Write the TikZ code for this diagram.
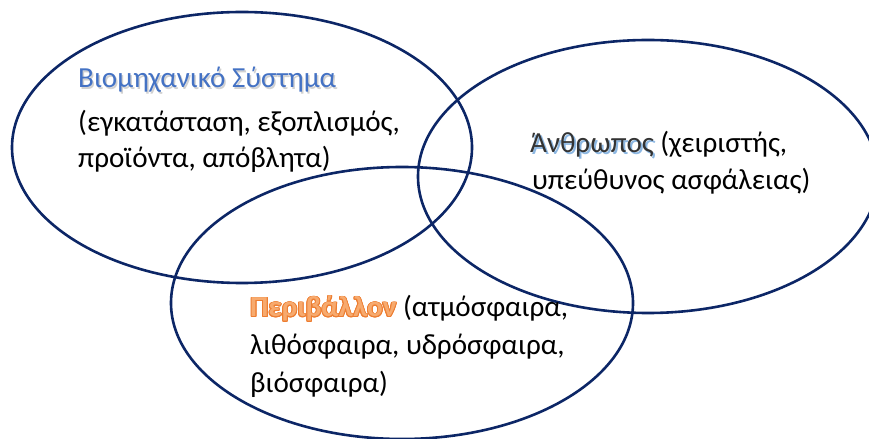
\documentclass[tikz,border=0pt]{standalone}
\usepackage{fontspec}
\setmainfont{Carlito}
\usepackage{contour}
\contourlength{0.9pt}
\definecolor{ringblue}{RGB}{12,38,102}
\definecolor{titleblue}{RGB}{68,114,196}
\definecolor{glowblue}{RGB}{140,183,226}
\definecolor{envorange}{RGB}{237,125,49}
\definecolor{envlight}{RGB}{247,170,110}
% soft drop shadow and glow helpers for the highlighted words
\newcommand\shadowedword[3]{\rlap{\hspace{#3}\raisebox{-#3}{\textcolor{#1}{#2}}}#2}
\tikzset{
  ring/.style={draw=ringblue, line width=2.6bp},
  txt/.style={anchor=base west, inner sep=0pt, font=\fontsize{29.2}{35}\selectfont}
}
\begin{document}
\begin{tikzpicture}[x=1bp,y=-1bp]
\useasboundingbox (0,0) rectangle (869,439);
\clip (0,0) rectangle (869,439);

% the three overlapping sets
\draw[ring] (242,147.5) ellipse [x radius=230bp, y radius=135.5bp];
\draw[ring] (648,176.5) ellipse [x radius=230bp, y radius=136.5bp];
\draw[ring] (402,303)   ellipse [x radius=231bp, y radius=136bp];

% industrial system
\node[txt, text=titleblue] (sysTitle) at (78,88) {\shadowedword{black!18}{Βιομηχανικό Σύστημα}{1.5bp}};
\node[txt] (sysLine1) at (78,132) {(εγκατάσταση, εξοπλισμός,};
\node[txt] (sysLine2) at (78,168) {προϊόντα, απόβλητα)};

% human factor
\node[txt] (humLine1) at (530,153) {{\color{black!80}\shadowedword{glowblue}{Άνθρωπος}{2bp}} (χειριστής,};
\node[txt] (humLine2) at (532,190) {υπεύθυνος ασφάλειας)};

% environment
\node[txt] (envLine1) at (250,317) {\contour{envorange}{\textcolor{envlight}{\bfseries Περιβάλλον}} (ατμόσφαιρα,};
\node[txt] (envLine2) at (250,355) {λιθόσφαιρα, υδρόσφαιρα,};
\node[txt] (envLine3) at (250,392) {βιόσφαιρα)};
\end{tikzpicture}
\end{document}
